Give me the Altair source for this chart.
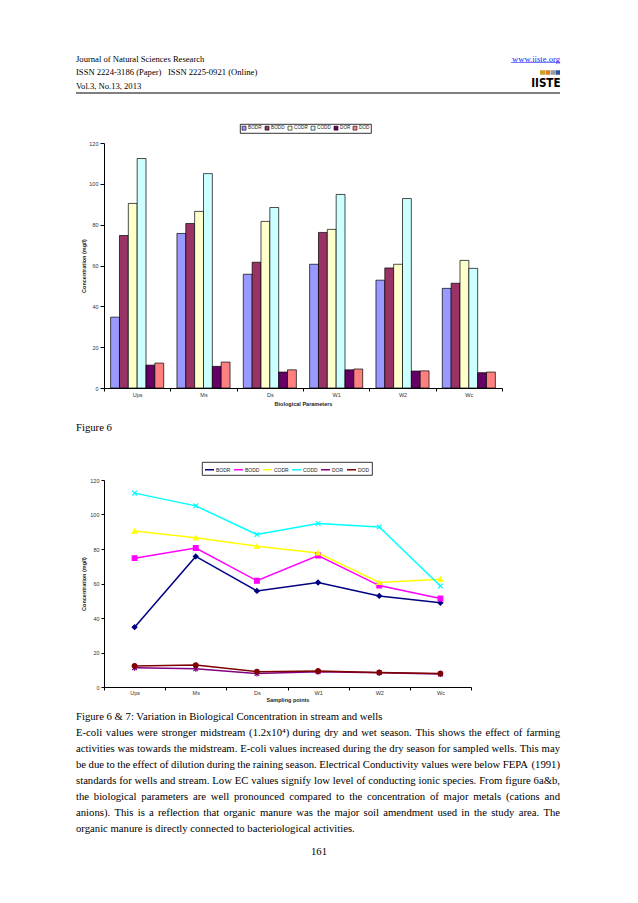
import altair as alt
import pandas as pd

# ---------------- data ----------------
sites = ["Ups", "Ms", "Ds", "W1", "W2", "Wc"]
series = ["BODR", "BODD", "CODR", "CODD", "DOR", "DOD"]
BODR = [34.7, 75.7, 55.7, 60.6, 52.8, 48.8]
BODD = [74.7, 80.6, 61.6, 76.2, 58.8, 51.3]
CODR = [90.4, 86.5, 81.6, 77.7, 60.6, 62.5]
CODD = [112.4, 105.0, 88.4, 94.8, 92.8, 58.6]
DOR = [11.2, 10.6, 7.8, 8.9, 8.3, 7.5]
DOD = [12.2, 12.7, 8.9, 9.3, 8.4, 7.8]
y_ticks = [0, 20, 40, 60, 80, 100, 120]

bar_colors = ["#9999FF", "#993366", "#FFFFCC", "#CCFFFF", "#660066", "#FF8080"]
line_colors = ["#000080", "#FF00FF", "#FFFF00", "#00FFFF", "#800080", "#800000"]
shapes = ["diamond", "square", "triangle-up",
          "M-1,-1L1,1M-1,1L1,-1",
          "M-1,-1L1,1M-1,1L1,-1M0,-1.3L0,1.3",
          "circle"]

header_lines = ["Journal of Natural Sciences Research",
                "ISSN 2224-3186 (Paper)",
                "ISSN 2225-0921 (Online)",
                "Vol.3, No.13, 2013"]
fig6_label = "Figure 6"
caption = "Figure 6 & 7: Variation in Biological Concentration in stream and wells"
paragraph = [
    "E-coli values were stronger midstream (1.2x10\u2074) during dry and wet season. This shows the effect of farming",
    "activities was towards the midstream. E-coli values increased during the dry season for sampled wells. This may",
    "be due to the effect of dilution during the raining season. Electrical Conductivity values were below FEPA (1991)",
    "standards for wells and stream. Low EC values signify low level of conducting ionic species. From figure 6a&b,",
    "the biological parameters are well pronounced compared to the concentration of major metals (cations and",
    "anions). This is a reflection that organic manure was the major soil amendment used in the study area. The",
    "organic manure is directly connected to bacteriological activities.",
]
page_no = "161"

rows = []
for name, vals in zip(series, [BODR, BODD, CODR, CODD, DOR, DOD]):
    for s, v in zip(sites, vals):
        rows.append({"site": s, "series": name, "value": v})
df = pd.DataFrame(rows)
one = pd.DataFrame({"k": [0]})

# ---------------- layout helpers ----------------
AOX, AOY = 104, 143          # page position of bar chart plot origin
BOX, BOY = 104, 480          # page position of line chart plot origin
SERIF = "Liberation Serif"
SANS = "Liberation Sans"
BODY = 10.7

# Times metrics (1/1000 em) for justifying the paragraph
TW = {" ": 250, "!": 333, "(": 333, ")": 333, ",": 250, "-": 333, ".": 250, "/": 278,
      ":": 278, ";": 278, "&": 778, "\u2074": 300,
      "A": 722, "B": 667, "C": 667, "D": 722, "E": 611, "F": 556, "G": 722, "H": 722,
      "I": 333, "J": 389, "K": 722, "L": 611, "M": 889, "N": 722, "O": 722, "P": 556,
      "Q": 722, "R": 667, "S": 556, "T": 611, "U": 722, "V": 722, "W": 944, "X": 722,
      "Y": 722, "Z": 611, "a": 444, "b": 500, "c": 444, "d": 500, "e": 444, "f": 333,
      "g": 500, "h": 500, "i": 278, "j": 278, "k": 500, "l": 278, "m": 778, "n": 500,
      "o": 500, "p": 500, "q": 500, "r": 333, "s": 389, "t": 278, "u": 500, "v": 500,
      "w": 722, "x": 500, "y": 500, "z": 444}
for d in "0123456789":
    TW[d] = 500


def wlen(s, size):
    return sum(TW.get(c, 500) for c in s) * size / 1000.0


def T(txt, px, py, size, ox, oy, font=SERIF, align="left", color="black", weight="normal"):
    return alt.Chart(one).mark_text(
        text=txt, align=align, baseline="middle", font=font, fontSize=size,
        color=color, fontWeight=weight
    ).encode(x=alt.value(px - ox), y=alt.value(py - oy))


def R(px1, px2, py, ox, oy, color="black", width=1.0):
    return alt.Chart(one).mark_rule(color=color, strokeWidth=width).encode(
        x=alt.value(px1 - ox), x2=alt.value(px2 - ox), y=alt.value(py - oy))


# ---------------- header / decorations (layered in top chart) ----------------
bg = alt.Chart(one).mark_rect(fill="white").encode(
    x=alt.value(8 - AOX), x2=alt.value(600 - AOX),
    y=alt.value(8 - AOY), y2=alt.value(875 - AOY))

hdr = [
    T(header_lines[0], 76, 58.5, 8.6, AOX, AOY),
    T(header_lines[1], 76, 72, 8.6, AOX, AOY),
    T(header_lines[2], 168, 72, 8.6, AOX, AOY),
    T(header_lines[3], 76, 85.5, 8.6, AOX, AOY),
    T("www.iiste.org", 560, 58.5, 8.6, AOX, AOY, align="right", color="#1a1aff"),
    R(511, 560, 62.5, AOX, AOY, color="#1a1aff", width=0.6),
    R(540, 545, 72.5, AOX, AOY, color="#c9a227", width=4.5),
    R(545.5, 550, 72.5, AOX, AOY, color="#e07b2a", width=4.5),
    R(550.5, 555, 72.5, AOX, AOY, color="#9a9a9a", width=4.5),
    R(555.5, 560, 72.5, AOX, AOY, color="#2f55a4", width=4.5),
    T("IISTE", 560.5, 83.5, 11.5, AOX, AOY, font="DejaVu Sans Condensed", align="right", weight="bold"),
    R(76, 560, 93, AOX, AOY, width=1.2),
    T(fig6_label, 76, 428, BODY, AOX, AOY),
]

AX = dict(labelFont=SANS, labelFontSize=5.5, labelColor="#333333",
          titleFont=SANS, titleFontSize=5.5, titleFontWeight="bold", titleColor="#222222",
          domainColor="black", tickColor="black", domainWidth=1, tickWidth=1, grid=False,
          zindex=1)

bars = alt.Chart(df).mark_bar(stroke="black", strokeWidth=0.7).encode(
    x=alt.X("site:N", sort=sites,
            scale=alt.Scale(domain=sites, paddingInner=0, paddingOuter=0),
            axis=alt.Axis(title="Biological Parameters", labelAngle=0, tickBand="extent",
                          tickSize=3, labelPadding=1.5, titlePadding=3, **AX)),
    xOffset=alt.XOffset("series:N", sort=series,
                        scale=alt.Scale(domain=series, paddingInner=0, paddingOuter=0.75)),
    y=alt.Y("value:Q", scale=alt.Scale(domain=[0, 120], nice=False),
            axis=alt.Axis(values=y_ticks, title="Concentration (mg/l)", tickSize=4,
                          labelPadding=2, titlePadding=2, **AX)),
    color=alt.Color("series:N", sort=series,
                    scale=alt.Scale(domain=series, range=bar_colors),
                    legend=alt.Legend(title=None, orient="none", legendX=136, legendY=-19,
                                      direction="horizontal", columns=6, symbolType="square",
                                      symbolSize=16, symbolStrokeColor="black",
                                      symbolStrokeWidth=0.6, labelFont=SANS, labelFontSize=4.7,
                                      labelColor="#222222", labelOffset=1.5, columnPadding=1,
                                      padding=1.5, strokeColor="black",
                                      fillColor="white")),
)

top = alt.layer(bg, bars, *hdr).properties(width=398, height=245)

# ---------------- line chart ----------------
line_legend = alt.Legend(title=None, orient="none", legendX=98, legendY=-18,
                         direction="horizontal", columns=6, symbolType="stroke",
                         symbolSize=81, symbolStrokeWidth=1.5, labelFont=SANS,
                         labelFontSize=5, labelColor="#222222", labelOffset=1,
                         columnPadding=0, padding=2, strokeColor="black",
                         fillColor="white")

base_l = alt.Chart(df).encode(
    x=alt.X("site:N", sort=sites, bandPosition=0.5,
            scale=alt.Scale(type="band", domain=sites, paddingInner=0, paddingOuter=0),
            axis=alt.Axis(title="Sampling points", labelAngle=0, tickBand="extent",
                          tickSize=3, labelPadding=0.5, titlePadding=1.5, **AX)),
    y=alt.Y("value:Q", scale=alt.Scale(domain=[0, 120], nice=False),
            axis=alt.Axis(values=y_ticks, title="Concentration (mg/l)", tickSize=3,
                          labelPadding=2, titlePadding=3.5, **AX)),
)
lines = base_l.mark_line(strokeWidth=1.5).encode(
    color=alt.Color("series:N", sort=series,
                    scale=alt.Scale(domain=series, range=line_colors), legend=line_legend))

marker_layers = []
for name, col, shp in zip(series, line_colors, shapes):
    marker_layers.append(
        base_l.transform_filter(alt.datum.series == name).mark_point(
            shape=shp, filled=True, fill=col, stroke=col, size=22, strokeWidth=1.2, opacity=1)
    )

par = [T(caption, 76, 717, BODY, BOX, BOY)]
LS = 16
for i, line in enumerate(paragraph):
    y = 717 + LS * (i + 1)
    if i == len(paragraph) - 1:
        par.append(T(line, 76, y, BODY, BOX, BOY))
        continue
    ws = line.split(" ")
    widths = [wlen(w, BODY) for w in ws]
    gap = (484 - sum(widths)) / (len(ws) - 1)
    x = 76.0
    for j, (w, wd) in enumerate(zip(ws, widths)):
        if j == len(ws) - 1:
            par.append(T(w, 560, y, BODY, BOX, BOY, align="right"))
        else:
            par.append(T(w, x, y, BODY, BOX, BOY))
        x += wd + gap
par.append(T(page_no, 319, 852, BODY, BOX, BOY, align="center"))

bot = alt.layer(lines, *marker_layers, *par).properties(width=367, height=207)

chart = alt.vconcat(top, bot, spacing=92, bounds="flush").resolve_scale(
    color="independent").resolve_legend(color="independent").properties(
    padding=0).configure_view(stroke=None).configure_legend(strokeWidth=0.8)

chart.save("out.html", embed_options={"renderer": "svg", "actions": False})
